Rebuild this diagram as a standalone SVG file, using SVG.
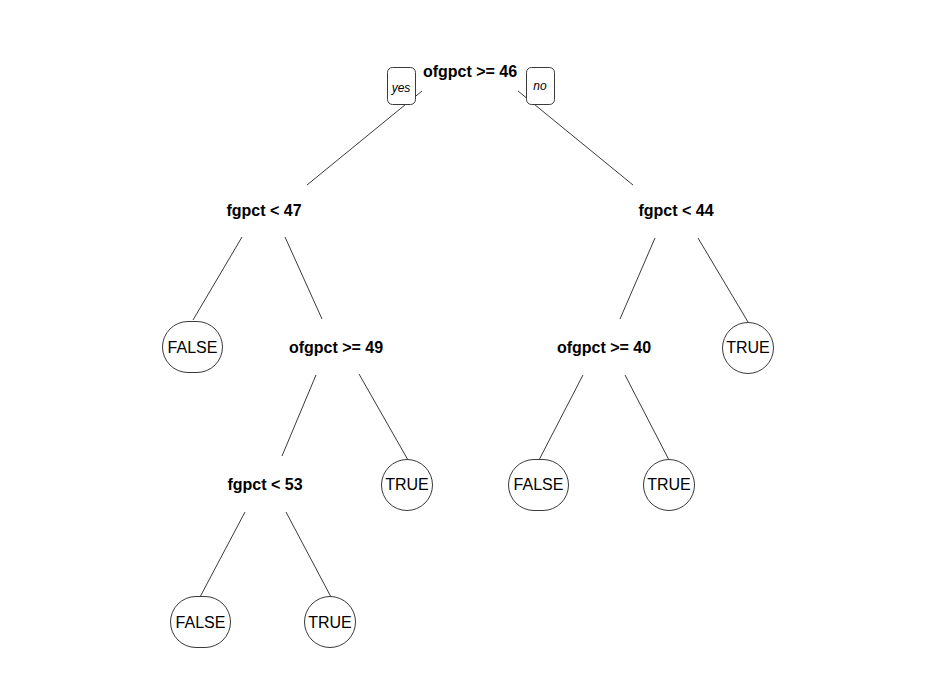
<svg xmlns="http://www.w3.org/2000/svg" width="938" height="691" viewBox="0 0 938 691">
  <style>
    .edge { stroke: #3a3a3a; stroke-width: 1; fill: none; }
    .split { font-family: "Liberation Sans", Arial, sans-serif; font-size: 16px; font-weight: bold; fill: #000; text-anchor: middle; }
    .leaf rect { fill: #fff; stroke: #3a3a3a; stroke-width: 1; }
    .leaf text { font-family: "Liberation Sans", Arial, sans-serif; font-size: 16px; fill: #000; text-anchor: middle; }
    .tag rect { fill: #fff; stroke: #3a3a3a; stroke-width: 1; }
    .tag text { font-family: "Liberation Sans", Arial, sans-serif; font-size: 12px; font-style: italic; fill: #000; text-anchor: middle; }
  </style>
  <rect width="938" height="691" fill="#fff"/>

  <!-- branches -->
  <g id="connectors">
    <line class="edge" x1="422" y1="91" x2="307" y2="185"/>
    <line class="edge" x1="518" y1="91" x2="633" y2="185"/>
    <line class="edge" x1="242" y1="237" x2="193" y2="320"/>
    <line class="edge" x1="285" y1="237" x2="322" y2="319"/>
    <line class="edge" x1="655" y1="238" x2="620" y2="319"/>
    <line class="edge" x1="698" y1="238" x2="748" y2="322"/>
    <line class="edge" x1="316" y1="375" x2="282" y2="456"/>
    <line class="edge" x1="359" y1="374" x2="408" y2="460"/>
    <line class="edge" x1="583" y1="375" x2="539" y2="460"/>
    <line class="edge" x1="625" y1="375" x2="669" y2="460"/>
    <line class="edge" x1="245" y1="512" x2="200" y2="597"/>
    <line class="edge" x1="286" y1="512" x2="331" y2="597"/>
  </g>

  <!-- yes / no tags on the root branches -->
  <g id="tag-yes" class="tag">
    <rect x="387.5" y="67.5" width="28" height="37" rx="5"/>
    <text x="401" y="92">yes</text>
  </g>
  <g id="tag-no" class="tag">
    <rect x="526.5" y="67.5" width="28" height="37" rx="5"/>
    <text x="540" y="90">no</text>
  </g>

  <!-- split nodes -->
  <g id="n1"><text class="split" x="470" y="77">ofgpct &gt;= 46</text></g>
  <g id="n2"><text class="split" x="264" y="216">fgpct &lt; 47</text></g>
  <g id="n3"><text class="split" x="676" y="216">fgpct &lt; 44</text></g>
  <g id="n5"><text class="split" x="336" y="353">ofgpct &gt;= 49</text></g>
  <g id="n6"><text class="split" x="604" y="353">ofgpct &gt;= 40</text></g>
  <g id="n10"><text class="split" x="265" y="490">fgpct &lt; 53</text></g>

  <!-- leaves -->
  <g id="n4" class="leaf">
    <rect x="162.5" y="321.5" width="60" height="51" rx="25.5"/>
    <text x="192.5" y="353">FALSE</text>
  </g>
  <g id="n7" class="leaf">
    <rect x="722.5" y="322.5" width="51" height="51" rx="25.5"/>
    <text x="748" y="353">TRUE</text>
  </g>
  <g id="n11" class="leaf">
    <rect x="381.5" y="459.5" width="51" height="51" rx="25.5"/>
    <text x="407" y="490">TRUE</text>
  </g>
  <g id="n12" class="leaf">
    <rect x="508.5" y="459.5" width="60" height="51" rx="25.5"/>
    <text x="538.5" y="490">FALSE</text>
  </g>
  <g id="n13" class="leaf">
    <rect x="643.5" y="459.5" width="51" height="51" rx="25.5"/>
    <text x="669" y="490">TRUE</text>
  </g>
  <g id="n20" class="leaf">
    <rect x="170.5" y="596.5" width="60" height="51" rx="25.5"/>
    <text x="200.5" y="628">FALSE</text>
  </g>
  <g id="n21" class="leaf">
    <rect x="304.5" y="596.5" width="51" height="51" rx="25.5"/>
    <text x="330" y="628">TRUE</text>
  </g>
</svg>
